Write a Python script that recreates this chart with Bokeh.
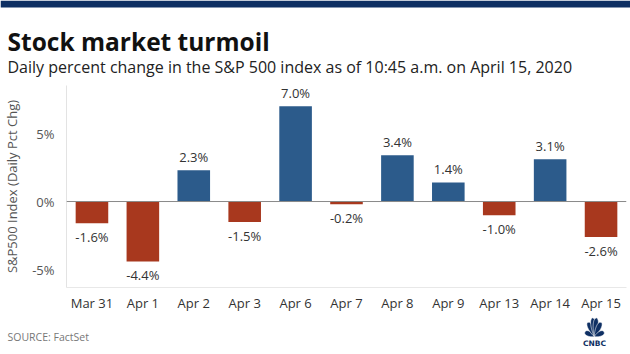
import numpy as np
from bokeh.plotting import figure
from bokeh.layouts import column
from bokeh.models import (Span, FixedTicker, PrintfTickFormatter, ColumnDataSource, Range1d,
                          FactorRange)
from bokeh.core.properties import value
from bokeh.embed import file_html
from bokeh.resources import INLINE

# ---- data ----
dates = ["Mar 31", "Apr 1", "Apr 2", "Apr 3", "Apr 6", "Apr 7", "Apr 8", "Apr 9", "Apr 13", "Apr 14", "Apr 15"]
pct_change = [-1.6, -4.4, 2.3, -1.5, 7.0, -0.2, 3.4, 1.4, -1.0, 3.1, -2.6]
y_ticks = [-5, 0, 5]

title = "Stock market turmoil"
subtitle = "Daily percent change in the S&P 500 index as of 10:45 a.m. on April 15, 2020"
source_note = "SOURCE: FactSet"
y_label = "S&P500 Index (Daily Pct Chg)"
logo_text = "CNBC"

RED = "#A8381E"
BLUE = "#2C5B8B"
NAVY = "#0E2F63"
FONT = "Open Sans"

W = 630
HEAD_H, CHART_H, FOOT_H = 78, 238, 38


def bare(h):
    f = figure(width=W, height=h, output_backend="svg", toolbar_location=None,
               x_range=Range1d(0, W), y_range=Range1d(0, h),
               x_axis_location=None, y_axis_location=None, min_border=0,
               frame_align=False)
    f.outline_line_color = None
    f.grid.grid_line_color = None
    return f


def base_y(h, px_from_top):
    return h - px_from_top


# ---- header ----
head = bare(HEAD_H)
head.quad(left=[0], right=[W], top=[HEAD_H], bottom=[HEAD_H - 7], color=NAVY, line_color=None)
head.text(x=[7], y=[base_y(HEAD_H, 41)], text=[title], text_font=value(FONT),
          text_font_size="24.5px", text_font_style="bold", text_color="#111111",
          text_baseline="alphabetic")
head.text(x=[7], y=[base_y(HEAD_H, 66)], text=[subtitle], text_font=value(FONT),
          text_font_size="16px", text_color="#222222", text_baseline="alphabetic")

# ---- chart ----
colors = [BLUE if v >= 0 else RED for v in pct_change]
labels = ["%.1f%%" % v for v in pct_change]
src = ColumnDataSource(dict(x=dates, top=pct_change, color=colors))
pos = ColumnDataSource(dict(x=[d for d, v in zip(dates, pct_change) if v >= 0],
                            y=[v for v in pct_change if v >= 0],
                            label=[l for l, v in zip(labels, pct_change) if v >= 0]))
neg = ColumnDataSource(dict(x=[d for d, v in zip(dates, pct_change) if v < 0],
                            y=[v for v in pct_change if v < 0],
                            label=[l for l, v in zip(labels, pct_change) if v < 0]))

p = figure(width=W, height=CHART_H, output_backend="svg", toolbar_location=None,
           x_range=FactorRange(*dates, range_padding=0), y_range=Range1d(-6.32, 8.53),
           min_border_left=65, min_border_right=4, min_border_top=7, min_border_bottom=29,
           frame_align=False)
p.outline_line_color = None
p.xgrid.grid_line_color = None
p.ygrid.grid_line_color = None

p.vbar(x="x", top="top", bottom=0, width=0.64, color="color", line_color=None, source=src)
p.add_layout(Span(location=0, dimension="width", line_color="#8a8a8a", line_width=1))

p.text(x="x", y="y", text="label", source=pos, text_align="center", text_baseline="bottom",
       y_offset=-4, text_font=value(FONT), text_font_size="13px", text_color="#333333")
p.text(x="x", y="y", text="label", source=neg, text_align="center", text_baseline="top",
       y_offset=5, text_font=value(FONT), text_font_size="13px", text_color="#333333")

p.yaxis.ticker = FixedTicker(ticks=y_ticks)
p.yaxis.formatter = PrintfTickFormatter(format="%d%%")
p.yaxis.major_tick_line_color = None
p.yaxis.minor_tick_line_color = None
p.yaxis.axis_line_color = "#e3e3e3"
p.yaxis.major_label_standoff = 6
p.yaxis.major_label_text_font = FONT
p.yaxis.major_label_text_font_size = "13px"
p.yaxis.major_label_text_color = "#555555"
p.yaxis.axis_label = y_label
p.yaxis.axis_label_text_font = FONT
p.yaxis.axis_label_text_font_size = "13px"
p.yaxis.axis_label_text_font_style = "normal"
p.yaxis.axis_label_text_color = "#555555"
p.yaxis.axis_label_standoff = 8

p.xaxis.major_tick_line_color = None
p.xaxis.minor_tick_line_color = None
p.xaxis.axis_line_color = "#e8e8e8"
p.xaxis.major_label_standoff = 0
p.xaxis.major_label_text_font = FONT
p.xaxis.major_label_text_font_size = "13px"
p.xaxis.major_label_text_color = "#333333"

# ---- footer (canvas y 316..354) ----
foot = bare(FOOT_H)
foot.text(x=[7], y=[base_y(FOOT_H, 336 - 316)], text=[source_note], text_font=value(FONT),
          text_font_size="10.5px", text_color="#777777", text_baseline="alphabetic")

# CNBC peacock (decoration)
bx, by = 594, FOOT_H - (336 - 316)
angles = [166, 131, 101, 79, 49, 14]
xs, ys = [], []
for ang in angles:
    a = np.deg2rad(ang)
    tip = np.array([10.0 * np.cos(a), 19.0 * np.sin(a)])
    L = np.hypot(*tip)
    u = tip / L
    v = np.array([-u[1], u[0]])
    t = np.linspace(0, 1, 24)
    w = 4.2 * (t ** 0.7) * np.sqrt(np.clip(1 - t ** 2.5, 0, 1))
    lx = bx + L * t * u[0] + w * v[0]
    ly = by + L * t * u[1] + w * v[1]
    rx = bx + L * t * u[0] - w * v[0]
    ry = by + L * t * u[1] - w * v[1]
    xs.append(list(lx) + list(rx[::-1]))
    ys.append(list(ly) + list(ry[::-1]))
foot.patches(xs=xs, ys=ys, fill_color=NAVY, line_color="white", line_width=0.6)
foot.text(x=[bx], y=[base_y(FOOT_H, 343 - 316)], text=[logo_text],
          text_font=value("DejaVu Sans"), text_font_size="7.5px", text_font_style="bold",
          text_color=NAVY, text_align="center", text_baseline="alphabetic")

layout = column(head, p, foot, spacing=0)
open("out.html", "w").write(file_html(layout, INLINE))
